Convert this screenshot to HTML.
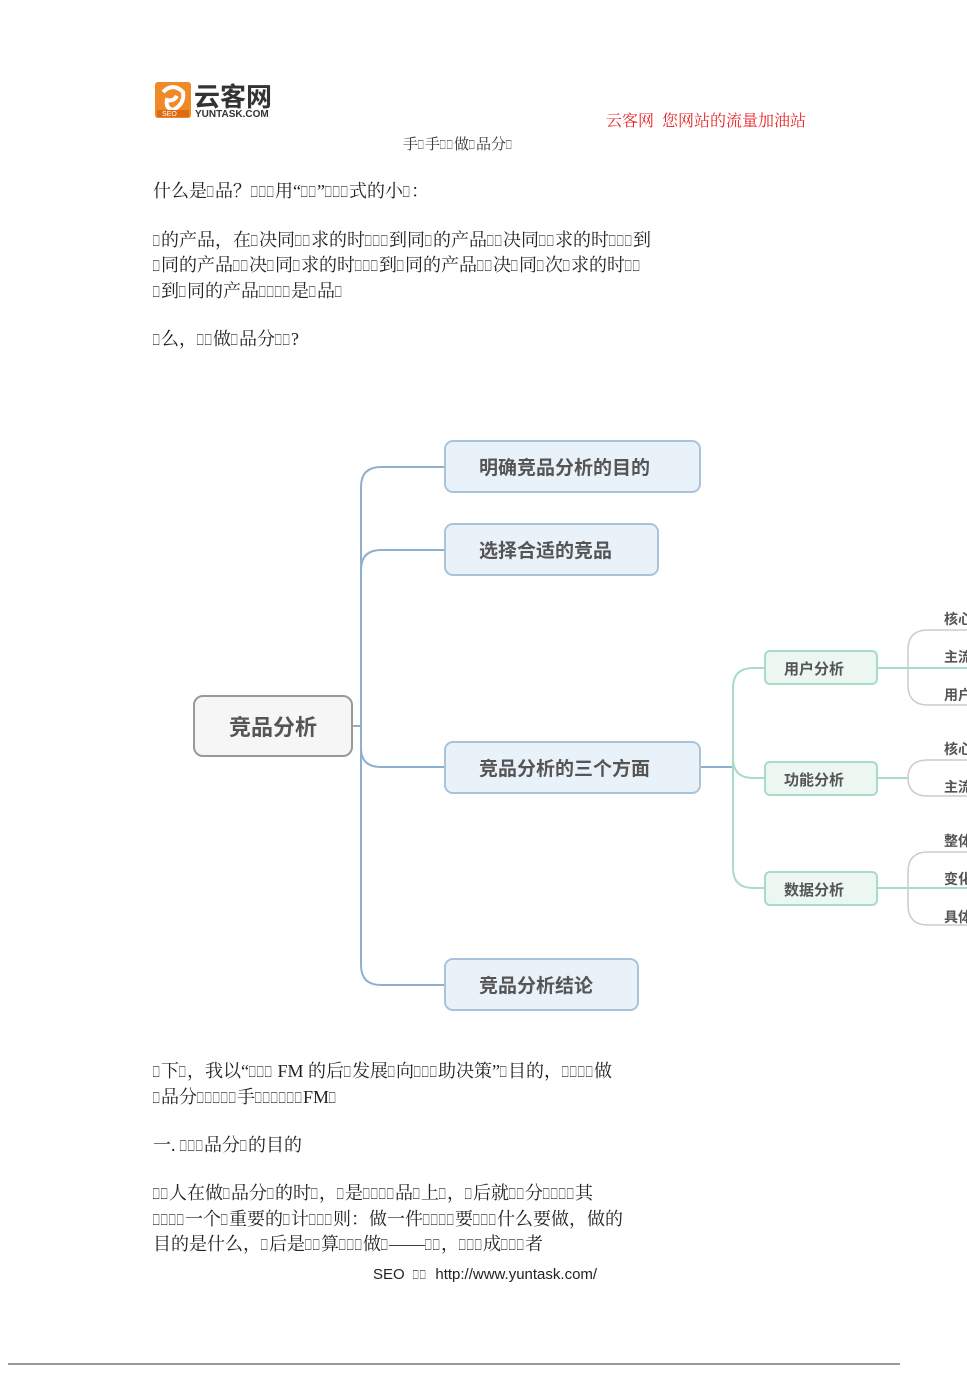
<!DOCTYPE html>
<html><head><meta charset="utf-8"><style>
html,body{margin:0;padding:0;background:#fff;}
body{width:967px;height:1373px;position:relative;overflow:hidden;font-family:"Liberation Serif","Noto Serif CJK SC",serif;color:#222;}
.t{position:absolute;left:153px;font-size:18px;white-space:nowrap;line-height:22px;}
i{font-style:normal;display:inline-block;width:8px;overflow:visible;transform:scaleX(0.58);transform-origin:0 0;}
.s i{width:7px;}
</style></head><body>
<svg style="position:absolute;left:155px;top:80px" width="130" height="40">
<rect x="0" y="2" width="36" height="36" rx="3" fill="#f08a28"/>
<path d="M8 12 Q18 2 28 12 Q30 24 18 30 Q10 28 12 20 Q18 22 22 16" fill="none" stroke="#fff" stroke-width="4"/>
<rect x="2" y="30" width="32" height="7" fill="#e06a10"/>
<text x="7" y="36" font-size="7" fill="#fff" font-family="Liberation Sans">SEO</text>
<text x="39" y="26" font-size="26" font-weight="bold" fill="#333" font-family="Liberation Sans,'Noto Sans CJK SC',sans-serif">云客网</text>
<text x="40" y="37" font-size="10" font-weight="bold" fill="#333" font-family="Liberation Sans,sans-serif">YUNTASK.COM</text>
</svg>
<div style="position:absolute;left:606px;top:108px;font-size:16px;color:#e8262b;white-space:nowrap;">云客网&nbsp; 您网站的流量加油站</div>
<div class="s" style="position:absolute;left:403px;top:133px;font-size:15px;white-space:nowrap;color:#333">手<i>□</i>手<i>□</i><i>□</i>做<i>□</i>品分<i>□</i></div>
<div class="t" style="top:180px">什么是<i>□</i>品？<i>□</i><i>□</i><i>□</i>用“<i>□</i><i>□</i>”<i>□</i><i>□</i><i>□</i>式的小<i>□</i>：</div>
<div class="t" style="top:229px"><i>□</i>的产品，在<i>□</i>决同<i>□</i><i>□</i>求的时<i>□</i><i>□</i><i>□</i>到同<i>□</i>的产品<i>□</i><i>□</i>决同<i>□</i><i>□</i>求的时<i>□</i><i>□</i><i>□</i>到</div>
<div class="t" style="top:254px"><i>□</i>同的产品<i>□</i><i>□</i>决<i>□</i>同<i>□</i>求的时<i>□</i><i>□</i><i>□</i>到<i>□</i>同的产品<i>□</i><i>□</i>决<i>□</i>同<i>□</i>次<i>□</i>求的时<i>□</i><i>□</i></div>
<div class="t" style="top:280px"><i>□</i>到<i>□</i>同的产品<i>□</i><i>□</i><i>□</i><i>□</i>是<i>□</i>品<i>□</i></div>
<div class="t" style="top:328px"><i>□</i>么，<i>□</i><i>□</i>做<i>□</i>品分<i>□</i><i>□</i>?</div>

<svg style="position:absolute;left:0;top:0" width="967" height="1373" font-family="Liberation Sans,'Noto Sans CJK SC',sans-serif">
<g fill="none" stroke="#8fb0cc" stroke-width="2">
<path d="M352 726 H361"/>
<path d="M445 467 H381 Q361 467 361 487 V965 Q361 985 381 985 H445"/>
<path d="M445 550 H381 Q361 550 361 570"/>
<path d="M361 748 Q361 767 381 767 H445"/>
<path d="M700 767 H733"/>
</g>
<g fill="none" stroke="#a8dcc8" stroke-width="2">
<path d="M765 668 H753 Q733 668 733 688 V868 Q733 888 753 888 H765"/>
<path d="M733 758 Q733 778 753 778 H765"/>
<path d="M877 668 H967"/><path d="M877 778 H908"/><path d="M877 888 H967"/>
</g>
<g fill="none" stroke="#ccc" stroke-width="1.5">
<path d="M967 630 H928 Q908 630 908 650 V685 Q908 705 928 705 H967"/>
<path d="M967 760 H928 Q908 760 908 778 Q908 796 928 796 H967"/>
<path d="M967 852 H928 Q908 852 908 872 V905 Q908 925 928 925 H967"/>
</g>
<rect x="194" y="696" width="158" height="60" rx="9" fill="#f6f6f6" stroke="#999" stroke-width="2"/>
<text x="273" y="735" font-size="22" font-weight="bold" fill="#555" text-anchor="middle">竞品分析</text>
<g fill="#eaf2f9" stroke="#a9c3da" stroke-width="2">
<rect x="445" y="441" width="255" height="51" rx="8"/>
<rect x="445" y="524" width="213" height="51" rx="8"/>
<rect x="445" y="742" width="255" height="51" rx="8"/>
<rect x="445" y="959" width="193" height="51" rx="8"/>
</g>
<g font-size="19" font-weight="bold" fill="#555">
<text x="479" y="474">明确竞品分析的目的</text>
<text x="479" y="557">选择合适的竞品</text>
<text x="479" y="775">竞品分析的三个方面</text>
<text x="479" y="992">竞品分析结论</text>
</g>
<g fill="#ecf7f1" stroke="#a8dcc8" stroke-width="2">
<rect x="765" y="651" width="112" height="33" rx="5"/>
<rect x="765" y="762" width="112" height="33" rx="5"/>
<rect x="765" y="872" width="112" height="33" rx="5"/>
</g>
<g font-size="15" font-weight="bold" fill="#555">
<text x="784" y="674">用户分析</text>
<text x="784" y="785">功能分析</text>
<text x="784" y="895">数据分析</text>
</g>
<g font-size="14" font-weight="bold" fill="#555">
<text x="944" y="624">核心</text><text x="944" y="662">主流</text><text x="944" y="700">用户</text>
<text x="944" y="754">核心</text><text x="944" y="792">主流</text>
<text x="944" y="846">整体</text><text x="944" y="884">变化</text><text x="944" y="922">具体</text>
</g>
<line x1="8" y1="1364" x2="900" y2="1364" stroke="#333" stroke-width="1"/>
</svg>

<div class="t" style="top:1060px"><i>□</i>下<i>□</i>，我以“<i>□</i><i>□</i><i>□</i> FM 的后<i>□</i>发展<i>□</i>向<i>□</i><i>□</i><i>□</i>助决策”<i>□</i>目的，<i>□</i><i>□</i><i>□</i><i>□</i>做</div>
<div class="t" style="top:1086px"><i>□</i>品分<i>□</i><i>□</i><i>□</i><i>□</i><i>□</i>手<i>□</i><i>□</i><i>□</i><i>□</i><i>□</i><i>□</i>FM<i>□</i></div>
<div class="t" style="top:1134px">一. <i>□</i><i>□</i><i>□</i>品分<i>□</i>的目的</div>
<div class="t" style="top:1182px"><i>□</i><i>□</i>人在做<i>□</i>品分<i>□</i>的时<i>□</i>，<i>□</i>是<i>□</i><i>□</i><i>□</i><i>□</i>品<i>□</i>上<i>□</i>，<i>□</i>后就<i>□</i><i>□</i>分<i>□</i><i>□</i><i>□</i><i>□</i>其</div>
<div class="t" style="top:1208px"><i>□</i><i>□</i><i>□</i><i>□</i>一个<i>□</i>重要的<i>□</i>计<i>□</i><i>□</i><i>□</i>则：做一件<i>□</i><i>□</i><i>□</i><i>□</i>要<i>□</i><i>□</i><i>□</i>什么要做，做的</div>
<div class="t" style="top:1233px">目的是什么，<i>□</i>后是<i>□</i><i>□</i>算<i>□</i><i>□</i><i>□</i>做<i>□</i>——<i>□</i><i>□</i>，<i>□</i><i>□</i><i>□</i>成<i>□</i><i>□</i><i>□</i>者</div>
<div class="s" style="position:absolute;left:373px;top:1266px;font-size:15px;font-family:'Liberation Sans','Noto Sans CJK SC',sans-serif;white-space:nowrap;">SEO &nbsp;<i>□</i><i>□</i>&nbsp; http://www.yuntask.com/</div>
</body></html>
